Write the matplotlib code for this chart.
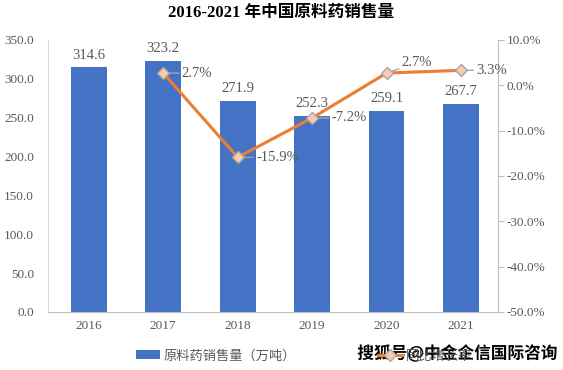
import matplotlib.pyplot as plt
import matplotlib.patheffects as pe

years = ['2016', '2017', '2018', '2019', '2020', '2021']
sales = [314.6, 323.2, 271.9, 252.3, 259.1, 267.7]
growth_years = ['2017', '2018', '2019', '2020', '2021']
growth = [2.7, -15.9, -7.2, 2.7, 3.3]

serif = ['Liberation Serif', 'Noto Sans CJK SC']
cjk = ['Noto Sans CJK SC', 'DejaVu Sans']
grey = '#595959'

fig = plt.figure(figsize=(5.63, 3.70), dpi=100)
ax = fig.add_axes([0.085, 0.157, 0.80, 0.735])
x = list(range(len(years)))
bars = ax.bar(x, sales, width=0.48, color='#4472C4', label='原料药销售量（万吨）', zorder=2)
for xi, v in zip(x, sales):
    ax.text(xi, v + 7, f'{v:.1f}', ha='center', va='bottom', fontsize=10.5, color=grey, family=serif)

ax.set_ylim(0, 350)
ax.set_yticks([i * 50 for i in range(8)])
ax.set_yticklabels([f'{i * 50:.1f}' for i in range(8)], family=serif, fontsize=9.5, color=grey)
ax.set_xlim(-0.55, 5.5)
ax.set_xticks(x)
ax.set_xticklabels(years, family=serif, fontsize=9.5, color=grey)
ax.tick_params(axis='x', length=0, pad=6)
ax.tick_params(axis='y', length=0, pad=10)
for s in ['top', 'right']:
    ax.spines[s].set_visible(False)
ax.spines['left'].set_color('#d9d9d9')
ax.spines['bottom'].set_color('#bfbfbf')

ax2 = ax.twinx()
gx = [years.index(y) for y in growth_years]
line, = ax2.plot(gx, growth, color='#ED7D31', lw=2.2, marker='D', markersize=6,
                 markerfacecolor='#F8CBAD', markeredgecolor='#A6A6A6', markeredgewidth=1,
                 label='同比增长率', zorder=3)
ax2.set_ylim(-50, 10)
ax2.set_yticks(list(range(-50, 11, 10)))
ax2.set_yticklabels([f'{t:.1f}%' for t in range(-50, 11, 10)], family=serif, fontsize=9.5, color=grey)
ax2.tick_params(axis='y', length=4, color='#bfbfbf', pad=2)
for s in ['top', 'left', 'bottom']:
    ax2.spines[s].set_visible(False)
ax2.spines['right'].set_color('#bfbfbf')

offsets = [(0.25, 0.0), (0.25, 0.0), (0.26, 0.0), (0.2, 2.3), (0.2, 0.0)]
for xi, v, (dx, dy) in zip(gx, growth, offsets):
    ax2.annotate(f'{v:.1f}%', xy=(xi, v), xytext=(xi + dx, v + dy), va='center', ha='left',
                 fontsize=10.5, color=grey, family=serif,
                 arrowprops=dict(arrowstyle='-', color='#A6A6A6', lw=1, shrinkA=0, shrinkB=4))

fig.text(0.5, 0.965, '2016-2021 年中国原料药销售量', ha='center', va='center',
         fontsize=12, fontweight='bold', family=serif)

fig.legend([bars, line], ['原料药销售量（万吨）', '同比增长率'], loc='center', ncol=2,
           bbox_to_anchor=(0.54, 0.038), frameon=False, prop={'family': cjk, 'size': 9.5},
           labelcolor=grey, handlelength=1.8, handletextpad=0.3, columnspacing=6.2)

fig.text(0.812, 0.045, '搜狐号@中金企信国际咨询', ha='center', va='center', fontsize=12,
         fontweight='bold', color='black', family=cjk,
         path_effects=[pe.withStroke(linewidth=2.5, foreground='white')])

fig.savefig('out.png', dpi=100)
